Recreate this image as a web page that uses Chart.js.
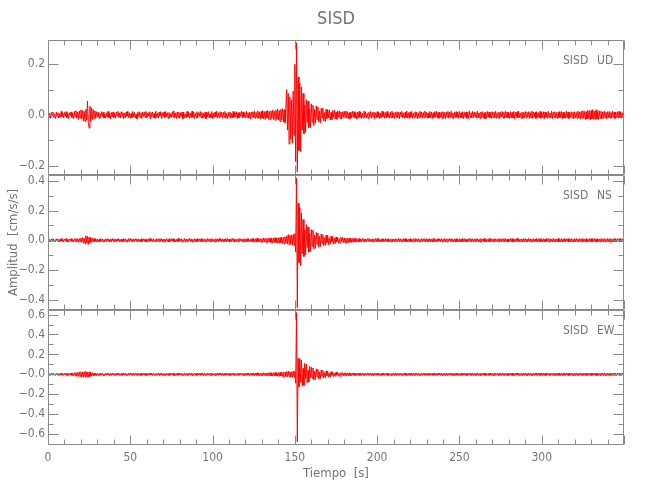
<!DOCTYPE html>
<html>
<head>
<meta charset="utf-8">
<script src="https://cdn.jsdelivr.net/npm/chart.js@4.4.1/dist/chart.umd.min.js"></script>
<style>
  body { margin: 0; background: #fff; }
</style>
</head>
<body>
<canvas id="sismo" width="650" height="500"></canvas>
<script>
// estacion y componentes
const station = 'SISD';
const components = ['UD', 'NS', 'EW'];

// muestreo (s)
const timeStart = 0;
const timeStep = 0.5;

// aceleracion [cm/s/s], dos muestras por segundo (una fila = 10 s)
const udValues = [
  .008,-.011,.006,-.013,.010,-.004,.012,-.009,.003,-.014,.011,-.007,.009,-.012,.005,-.010,.014,-.006,.008,-.012,
  .010,-.005,.013,-.011,.007,-.014,.009,-.003,.012,-.010,.006,-.015,.014,-.008,.017,-.013,.011,-.018,.016,-.012,
  .020,-.015,.018,-.024,.014,-.026,.022,-.020,.055,-.030,-.052,.034,-.025,.028,-.018,.021,-.014,.016,-.011,.013,
  -.009,.012,-.014,.007,-.010,.013,-.006,.011,-.012,.004,-.013,.009,-.008,.014,-.011,.006,-.015,.010,-.007,.012,
  -.010,.005,-.013,.011,-.004,.014,-.009,.008,-.012,.013,-.006,.010,-.014,.007,-.011,.012,-.005,.015,-.010,.009,
  -.013,.006,-.011,.014,-.008,.010,-.012,.003,-.015,.011,-.007,.013,-.010,.009,-.014,.012,-.006,.011,-.009,.014,
  -.012,.008,-.005,.013,-.014,.010,-.008,.012,-.011,.006,-.013,.015,-.009,.007,-.012,.011,-.004,.013,-.015,.009,
  -.007,.012,-.011,.014,-.006,.009,-.013,.010,-.012,.005,-.010,.013,-.008,.016,-.011,.007,-.014,.012,-.009,.011,
  -.013,.009,-.006,.012,-.015,.011,-.010,.004,-.012,.014,-.007,.010,-.013,.008,-.011,.015,-.009,.012,-.014,.006,
  -.010,.013,-.012,.009,-.005,.014,-.011,.010,-.013,.007,-.009,.012,-.015,.011,-.008,.013,-.012,.005,-.011,.014,
  -.014,.008,-.010,.012,-.007,.015,-.012,.009,-.011,.013,-.006,.010,-.013,.011,-.009,.014,-.012,.007,-.015,.010,
  -.008,.012,-.013,.006,-.011,.014,-.010,.011,-.007,.013,-.014,.009,-.012,.010,-.005,.015,-.011,.012,-.009,.008,
  -.012,.014,-.010,.009,-.013,.011,-.016,.012,-.008,.013,-.011,.015,-.014,.010,-.012,.016,-.013,.011,-.015,.014,
  -.012,.017,-.016,.013,-.018,.015,-.011,.018,-.017,.014,-.019,.016,-.013,.020,-.018,.015,-.021,.019,-.016,.024,
  -.020,.018,-.026,.022,-.019,.025,-.028,.021,-.030,.026,.100,-.060,.085,-.115,.070,-.095,.060,-.110,.095,-.080,
  .200,-.185,.285,-.225,.150,-.140,.125,-.145,.110,-.060,.085,-.075,.040,-.068,.060,-.030,.055,-.050,.025,-.050,
  .044,-.028,.038,-.042,.022,-.033,.036,-.018,.032,-.028,.015,-.031,.026,-.012,.027,-.024,.010,-.026,.022,-.014,
  .021,-.012,.019,-.020,.010,-.018,.017,-.009,.019,-.016,.011,-.017,.015,-.008,.016,-.014,.012,-.015,.013,-.010,
  .014,-.012,.016,-.010,.013,-.015,.009,-.014,.012,-.011,.015,-.008,.013,-.012,.010,-.016,.011,-.013,.014,-.009,
  .012,-.014,.007,-.011,.015,-.010,.013,-.012,.006,-.014,.011,-.009,.014,-.013,.010,-.008,.012,-.015,.009,-.011,
  .013,-.010,.011,-.014,.008,-.012,.015,-.007,.012,-.013,.010,-.011,.014,-.009,.006,-.013,.012,-.010,.015,-.012,
  .009,-.014,.011,-.008,.013,-.012,.010,-.015,.012,-.006,.014,-.011,.008,-.013,.011,-.010,.016,-.012,.009,-.014,
  .012,-.009,.014,-.013,.007,-.011,.013,-.010,.011,-.015,.009,-.012,.014,-.008,.012,-.013,.010,-.011,.015,-.009,
  .011,-.013,.008,-.012,.014,-.010,.012,-.014,.009,-.011,.013,-.007,.015,-.012,.010,-.013,.012,-.009,.011,-.015,
  .013,-.011,.010,-.014,.012,-.008,.014,-.013,.011,-.010,.015,-.012,.008,-.014,.012,-.011,.013,-.009,.010,-.013,
  .014,-.012,.009,-.011,.013,-.015,.010,-.008,.012,-.013,.011,-.014,.016,-.010,.009,-.012,.014,-.011,.012,-.007,
  .010,-.013,.015,-.011,.008,-.014,.012,-.010,.013,-.012,.009,-.015,.011,-.013,.014,-.009,.012,-.011,.010,-.014,
  .013,-.010,.011,-.012,.015,-.013,.009,-.011,.012,-.014,.010,-.008,.014,-.012,.011,-.013,.016,-.010,.012,-.011,
  .009,-.014,.013,-.011,.010,-.012,.014,-.016,.011,-.009,.013,-.012,.015,-.010,.008,-.013,.012,-.014,.010,-.011,
  .014,-.012,.011,-.009,.013,-.014,.010,-.011,.015,-.013,.012,-.008,.011,-.014,.013,-.010,.009,-.012,.014,-.013,
  .011,-.010,.013,-.015,.012,-.009,.010,-.013,.014,-.011,.008,-.012,.015,-.014,.011,-.010,.013,-.012,.009,-.014,
  .012,-.011,.014,-.010,.013,-.015,.011,-.012,.009,-.013,.016,-.011,.012,-.014,.010,-.009,.013,-.012,.011,-.015,
  .013,-.012,.010,-.014,.015,-.011,.012,-.016,.014,-.013,.017,-.012,.015,-.018,.013,-.016,.019,-.014,.017,-.020,
  .018,-.015,.021,-.017,.016,-.019,.020,-.016,.014,-.018,.017,-.013,.015,-.016,.012,-.014,.016,-.012,.011,-.015,
  .013,-.011,.014,-.012,.010,-.013,.015,-.010,.012,-.014,.011,-.009,.013,-.012,.014,-.010,.012,-.013,.009,-.011
];

const nsValues = [
  .007,-.010,.004,-.012,.009,-.006,.011,-.008,.003,-.011,.010,-.005,.008,-.012,.006,-.009,.012,-.007,.005,-.010,
  .009,-.004,.011,-.010,.006,-.012,.008,-.003,.011,-.009,.005,-.012,.010,-.007,.013,-.011,.009,-.014,.012,-.010,
  .015,-.012,.018,-.020,.014,-.022,.030,-.018,.026,-.028,.020,-.016,.018,-.013,.015,-.011,.012,-.009,.010,-.012,
  .008,-.011,.006,-.010,.012,-.007,.009,-.011,.005,-.012,.010,-.008,.011,-.006,.009,-.012,.007,-.010,.012,-.005,
  .010,-.011,.007,-.012,.009,-.004,.011,-.010,.006,-.012,.008,-.009,.012,-.007,.010,-.011,.005,-.010,.011,-.008,
  .012,-.006,.009,-.011,.007,-.010,.011,-.005,.010,-.012,.008,-.009,.006,-.011,.012,-.008,.010,-.007,.009,-.012,
  .006,-.010,.011,-.009,.012,-.006,.008,-.011,.010,-.007,.005,-.012,.011,-.008,.009,-.010,.012,-.006,.010,-.011,
  .009,-.012,.007,-.010,.011,-.008,.006,-.011,.012,-.009,.010,-.005,.011,-.012,.008,-.010,.007,-.011,.012,-.008,
  .011,-.007,.010,-.012,.005,-.009,.012,-.010,.008,-.011,.009,-.006,.012,-.008,.010,-.012,.006,-.009,.011,-.010,
  .008,-.011,.012,-.006,.009,-.010,.011,-.008,.007,-.012,.010,-.009,.006,-.011,.012,-.007,.009,-.010,.011,-.012,
  .010,-.008,.006,-.012,.011,-.009,.008,-.010,.012,-.006,.009,-.011,.010,-.012,.007,-.008,.011,-.010,.012,-.009,
  .007,-.011,.010,-.009,.012,-.007,.011,-.012,.006,-.010,.009,-.011,.012,-.008,.010,-.006,.008,-.012,.011,-.010,
  .009,-.012,.011,-.008,.010,-.011,.007,-.010,.012,-.009,.011,-.013,.010,-.012,.014,-.011,.013,-.012,.010,-.014,
  .012,-.013,.015,-.011,.013,-.014,.012,-.016,.014,-.012,.016,-.015,.013,-.017,.015,-.014,.018,-.016,.015,-.019,
  .017,-.020,.018,-.016,.022,-.021,.019,-.024,.023,-.020,.030,-.025,.038,-.030,.034,-.028,.036,-.032,.040,-.035,
  .045,-.080,.420,-.455,.250,-.150,.220,-.170,.185,-.090,.140,-.110,.070,-.100,.105,-.050,.090,-.080,.045,-.075,
  .072,-.040,.068,-.060,.035,-.055,.052,-.028,.049,-.046,.025,-.042,.043,-.020,.038,-.036,.018,-.034,.035,-.016,
  .031,-.029,.015,-.027,.028,-.012,.025,-.027,.014,-.023,.022,-.010,.021,-.020,.011,-.019,.020,-.009,.019,-.017,
  .016,-.018,.015,-.017,.014,-.016,.015,-.013,.014,-.015,.012,-.014,.013,-.011,.014,-.012,.011,-.013,.012,-.010,
  .009,-.011,.012,-.007,.010,-.012,.008,-.010,.011,-.006,.012,-.009,.007,-.011,.010,-.012,.009,-.008,.011,-.010,
  .012,-.008,.010,-.011,.006,-.012,.011,-.009,.008,-.010,.012,-.007,.009,-.012,.011,-.010,.006,-.011,.010,-.009,
  .008,-.012,.011,-.010,.009,-.007,.012,-.011,.010,-.008,.007,-.012,.011,-.009,.012,-.010,.008,-.011,.009,-.012,
  .011,-.009,.007,-.012,.010,-.011,.012,-.008,.009,-.010,.011,-.012,.006,-.009,.012,-.011,.010,-.007,.011,-.010,
  .010,-.012,.009,-.008,.011,-.010,.007,-.012,.012,-.009,.010,-.011,.008,-.012,.011,-.006,.009,-.010,.012,-.011,
  .007,-.010,.012,-.011,.009,-.012,.010,-.007,.011,-.009,.012,-.010,.008,-.011,.010,-.012,.011,-.009,.006,-.011,
  .011,-.012,.008,-.010,.012,-.009,.011,-.011,.007,-.012,.009,-.008,.012,-.010,.011,-.009,.010,-.012,.008,-.010,
  .012,-.009,.010,-.011,.007,-.012,.011,-.010,.009,-.008,.012,-.011,.010,-.012,.006,-.010,.011,-.009,.012,-.011,
  .009,-.011,.011,-.012,.010,-.007,.008,-.011,.012,-.010,.009,-.012,.011,-.008,.010,-.011,.012,-.010,.007,-.012,
  .010,-.008,.012,-.010,.011,-.012,.009,-.011,.010,-.009,.012,-.007,.011,-.012,.008,-.010,.009,-.011,.012,-.010,
  .011,-.010,.008,-.012,.012,-.009,.010,-.011,.007,-.012,.011,-.010,.009,-.008,.012,-.011,.010,-.012,.011,-.009,
  .008,-.012,.011,-.010,.009,-.011,.012,-.008,.010,-.012,.011,-.009,.007,-.011,.012,-.010,.009,-.012,.010,-.011,
  .012,-.010,.009,-.011,.011,-.012,.008,-.009,.012,-.011,.010,-.008,.011,-.012,.009,-.010,.012,-.011,.008,-.012,
  .010,-.011,.012,-.009,.008,-.012,.011,-.010,.010,-.011,.012,-.009,.009,-.012,.011,-.010,.007,-.011,.012,-.009,
  .011,-.012,.010,-.008,.012,-.011,.009,-.012,.011,-.010,.008,-.011,.012,-.009,.010,-.012,.011,-.010,.009,-.011,
  .012,-.009,.010,-.012,.011,-.010,.008,-.011,.012,-.010,.009,-.012,.011,-.008,.010,-.011,.012,-.010,.009,-.012
];

const ewValues = [
  .008,-.012,.005,-.011,.010,-.007,.013,-.009,.004,-.012,.011,-.006,.009,-.013,.007,-.010,.012,-.008,.006,-.011,
  .010,-.005,.012,-.011,.008,-.013,.009,-.006,.014,-.012,.010,-.015,.016,-.013,.018,-.020,.017,-.022,.024,-.019,
  .026,-.028,.022,-.030,.027,-.024,.030,-.026,.023,-.028,.025,-.021,.020,-.018,.016,-.015,.013,-.012,.011,-.013,
  .009,-.012,.006,-.011,.013,-.008,.010,-.012,.005,-.013,.011,-.009,.012,-.007,.010,-.013,.008,-.011,.013,-.006,
  .011,-.012,.008,-.013,.010,-.005,.012,-.011,.007,-.013,.009,-.010,.013,-.008,.011,-.012,.006,-.011,.012,-.009,
  .013,-.007,.010,-.012,.008,-.011,.012,-.006,.011,-.013,.009,-.010,.007,-.012,.013,-.009,.011,-.008,.010,-.013,
  .007,-.011,.012,-.010,.013,-.007,.009,-.012,.011,-.008,.006,-.013,.012,-.009,.010,-.011,.013,-.007,.011,-.012,
  .010,-.013,.008,-.011,.012,-.009,.007,-.012,.013,-.010,.011,-.006,.012,-.013,.009,-.011,.008,-.012,.013,-.009,
  .012,-.008,.011,-.013,.006,-.010,.013,-.011,.009,-.012,.010,-.007,.013,-.009,.011,-.013,.007,-.010,.012,-.011,
  .009,-.012,.013,-.007,.010,-.011,.012,-.009,.008,-.013,.011,-.010,.007,-.012,.013,-.008,.010,-.011,.012,-.013,
  .011,-.009,.007,-.013,.012,-.010,.009,-.011,.013,-.007,.010,-.012,.011,-.013,.008,-.009,.012,-.011,.013,-.010,
  .008,-.012,.011,-.010,.013,-.008,.012,-.013,.007,-.011,.010,-.012,.013,-.009,.011,-.007,.009,-.013,.012,-.011,
  .010,-.013,.012,-.009,.011,-.012,.008,-.011,.013,-.010,.012,-.014,.011,-.013,.015,-.012,.014,-.013,.011,-.015,
  .013,-.014,.016,-.012,.014,-.015,.013,-.017,.015,-.013,.017,-.016,.014,-.018,.016,-.015,.019,-.017,.016,-.020,
  .018,-.021,.019,-.017,.023,-.022,.020,-.025,.024,-.021,.028,-.026,.030,-.024,.027,-.029,.025,-.030,.032,-.028,
  .030,-.090,.620,-.680,.160,-.125,.155,-.080,.145,-.120,.060,-.110,.110,-.045,.100,-.085,.040,-.078,.080,-.035,
  .072,-.040,.064,-.058,.032,-.052,.055,-.025,.050,-.046,.022,-.042,.043,-.018,.040,-.036,.016,-.034,.035,-.014,
  .030,-.028,.012,-.026,.026,-.010,.024,-.023,.011,-.021,.021,-.009,.020,-.019,.010,-.020,.017,-.008,.016,-.017,
  .015,-.017,.016,-.014,.013,-.015,.014,-.013,.012,-.014,.013,-.011,.014,-.012,.011,-.013,.012,-.010,.013,-.012,
  .010,-.012,.013,-.008,.011,-.013,.009,-.011,.012,-.007,.013,-.010,.008,-.012,.011,-.013,.010,-.009,.012,-.011,
  .013,-.009,.011,-.012,.007,-.013,.012,-.010,.009,-.011,.013,-.008,.010,-.013,.012,-.011,.007,-.012,.011,-.010,
  .009,-.013,.012,-.011,.010,-.008,.013,-.012,.011,-.009,.008,-.013,.012,-.010,.013,-.011,.009,-.012,.010,-.013,
  .012,-.010,.008,-.013,.011,-.012,.013,-.009,.010,-.011,.012,-.013,.007,-.010,.013,-.012,.011,-.008,.012,-.011,
  .011,-.013,.010,-.009,.012,-.011,.008,-.013,.013,-.010,.011,-.012,.009,-.013,.012,-.007,.010,-.011,.013,-.012,
  .008,-.011,.013,-.012,.010,-.013,.011,-.008,.012,-.010,.013,-.011,.009,-.012,.011,-.013,.012,-.010,.007,-.012,
  .012,-.013,.009,-.011,.013,-.010,.012,-.012,.008,-.013,.010,-.009,.013,-.011,.012,-.010,.011,-.013,.009,-.011,
  .013,-.010,.011,-.012,.008,-.013,.012,-.011,.010,-.009,.013,-.012,.011,-.013,.007,-.011,.012,-.010,.013,-.012,
  .010,-.012,.012,-.013,.011,-.008,.009,-.012,.013,-.011,.010,-.013,.012,-.009,.011,-.012,.013,-.011,.008,-.013,
  .011,-.009,.013,-.011,.012,-.013,.010,-.012,.011,-.010,.013,-.008,.012,-.013,.009,-.011,.010,-.012,.013,-.011,
  .012,-.011,.009,-.013,.013,-.010,.011,-.012,.008,-.013,.012,-.011,.010,-.009,.013,-.012,.011,-.013,.012,-.010,
  .009,-.013,.012,-.011,.010,-.012,.013,-.009,.011,-.013,.012,-.010,.008,-.012,.013,-.011,.010,-.013,.011,-.012,
  .013,-.011,.010,-.012,.012,-.013,.009,-.010,.013,-.012,.011,-.009,.012,-.013,.010,-.011,.013,-.012,.009,-.013,
  .011,-.012,.013,-.010,.009,-.013,.012,-.011,.011,-.012,.013,-.010,.010,-.013,.012,-.011,.008,-.012,.013,-.010,
  .012,-.013,.011,-.009,.013,-.012,.010,-.013,.012,-.011,.009,-.012,.013,-.010,.011,-.013,.012,-.011,.010,-.012,
  .013,-.010,.011,-.013,.012,-.011,.009,-.012,.013,-.011,.010,-.013,.012,-.009,.011,-.012,.013,-.011,.010,-.013
];

// ejes
const xRange = [0, 350];
const xTickValues = [0, 50, 100, 150, 200, 250, 300];
const xTickLabels = ['0', '50', '100', '150', '200', '250', '300'];

const udRange = [-0.237, 0.296];
const udTickValues = [-0.2, 0, 0.2];
const udTickLabels = ['\u22120.2', '0.0', '0.2'];

const nsRange = [-0.47, 0.44];
const nsTickValues = [-0.4, -0.2, 0, 0.2, 0.4];
const nsTickLabels = ['\u22120.4', '\u22120.2', '0.0', '0.2', '0.4'];

const ewRange = [-0.71, 0.646];
const ewTickValues = [-0.6, -0.4, -0.2, 0, 0.2, 0.4, 0.6];
const ewTickLabels = ['\u22120.6', '\u22120.4', '\u22120.2', '\u22120.0', '0.2', '0.4', '0.6'];

const fuente = "'Liberation Sans Narrow', 'DejaVu Sans Condensed', sans-serif";
const colorTexto = '#747474';
const colorEje = '#8a8a8a';
const colorTraza = '#ff0000';

const panelIds = ['yUD', 'yNS', 'yEW'];

// etiqueta solo en los valores de la lista
function etiqueta(valores, textos, v) {
  const i = valores.findIndex((a) => Math.abs(a - v) < 1e-9);
  return i >= 0 ? textos[i] : '';
}

function serie(valores) {
  return valores.map((v, i) => ({ x: timeStart + i * timeStep, y: v }));
}

// marco de cada panel con marcas hacia adentro
const marcoPaneles = {
  id: 'marcoPaneles',
  afterDatasetsDraw(chart) {
    const { ctx, chartArea: a, scales } = chart;
    const x = scales.x;
    const left = Math.round(a.left) + 0.5;
    const right = Math.round(a.right) - 0.5;
    ctx.save();
    ctx.strokeStyle = colorEje;
    ctx.lineWidth = 1;
    ctx.beginPath();
    panelIds.forEach((id) => {
      const s = scales[id];
      const top = Math.round(s.top) + 0.5;
      const bot = Math.round(s.bottom) - 0.5;
      ctx.rect(left, top, right - left, bot - top);
      s.ticks.forEach((t) => {
        const y = Math.round(s.getPixelForValue(t.value)) + 0.5;
        if (y < top || y > bot) return;
        const r = t.value / 0.2;
        const len = Math.abs(r - Math.round(r)) < 1e-6 ? 10 : 5;
        ctx.moveTo(left, y); ctx.lineTo(left + len, y);
        ctx.moveTo(right, y); ctx.lineTo(right - len, y);
      });
      x.ticks.forEach((t) => {
        const px = Math.round(x.getPixelForValue(t.value)) + 0.5;
        const len = t.value % 50 === 0 ? 9 : 5;
        ctx.moveTo(px, top); ctx.lineTo(px, top + len);
        ctx.moveTo(px, bot); ctx.lineTo(px, bot - len);
      });
    });
    ctx.stroke();

    ctx.fillStyle = colorTexto;
    ctx.font = '12px ' + fuente;
    ctx.textBaseline = 'middle';
    ctx.textAlign = 'left';
    panelIds.forEach((id, k) => {
      const s = scales[id];
      ctx.fillText(station, a.right - 61, s.top + 21);
      ctx.fillText(components[k], a.right - 27, s.top + 21);
    });
    ctx.restore();
  }
};

function ejeY(rango, valores, textos, peso, extra) {
  return Object.assign({
    type: 'linear',
    position: 'left',
    stack: 'sismo',
    stackWeight: 1,
    weight: peso,
    min: rango[0],
    max: rango[1],
    grid: { display: false, drawTicks: false },
    border: { display: false },
    ticks: {
      stepSize: 0.1,
      includeBounds: false,
      autoSkip: false,
      padding: 3,
      color: colorTexto,
      font: { family: fuente, size: 12 },
      callback: (v) => etiqueta(valores, textos, v)
    },
    afterFit: (s) => { s.width = 48; }
  }, extra || {});
}

const datos = [
  { ids: 'yUD', vals: udValues },
  { ids: 'yNS', vals: nsValues },
  { ids: 'yEW', vals: ewValues }
];

new Chart(document.getElementById('sismo'), {
  type: 'line',
  data: {
    datasets: datos.map((d, k) => ({
      label: station + ' ' + components[k],
      data: serie(d.vals),
      yAxisID: d.ids,
      borderColor: colorTraza,
      borderWidth: 1,
      borderJoinStyle: 'bevel',
      pointRadius: 0,
      tension: 0,
      fill: false
    }))
  },
  options: {
    responsive: false,
    animation: false,
    devicePixelRatio: 1,
    layout: { padding: { top: 0, right: 26, bottom: 0, left: 0 } },
    plugins: {
      legend: { display: false },
      tooltip: { enabled: false },
      title: {
        display: true,
        fullSize: false,
        text: station,
        color: colorTexto,
        font: { family: fuente, size: 18, weight: 'normal' },
        padding: { top: 9, bottom: 9.4 }
      }
    },
    scales: {
      x: {
        type: 'linear',
        position: 'bottom',
        min: xRange[0],
        max: xRange[1],
        grid: { display: false, drawTicks: false },
        border: { display: false },
        ticks: {
          stepSize: 10,
          autoSkip: false,
          maxRotation: 0,
          padding: 6,
          color: colorTexto,
          font: { family: fuente, size: 12 },
          callback: (v) => etiqueta(xTickValues, xTickLabels, v)
        },
        title: {
          display: true,
          text: 'Tiempo  [s]',
          color: colorTexto,
          font: { family: fuente, size: 13 },
          padding: { top: 4, bottom: 19 }
        },
        afterFit: (s) => { s.height = 55; }
      },
      yUD: ejeY(udRange, udTickValues, udTickLabels, 3),
      yNS: ejeY(nsRange, nsTickValues, nsTickLabels, 2, {
        title: {
          display: true,
          text: 'Amplitud  [cm/s/s]',
          color: colorTexto,
          font: { family: fuente, size: 13 },
          padding: { top: 6, bottom: 0 }
        }
      }),
      yEW: ejeY(ewRange, ewTickValues, ewTickLabels, 1)
    }
  },
  plugins: [marcoPaneles]
});
</script>
</body>
</html>
